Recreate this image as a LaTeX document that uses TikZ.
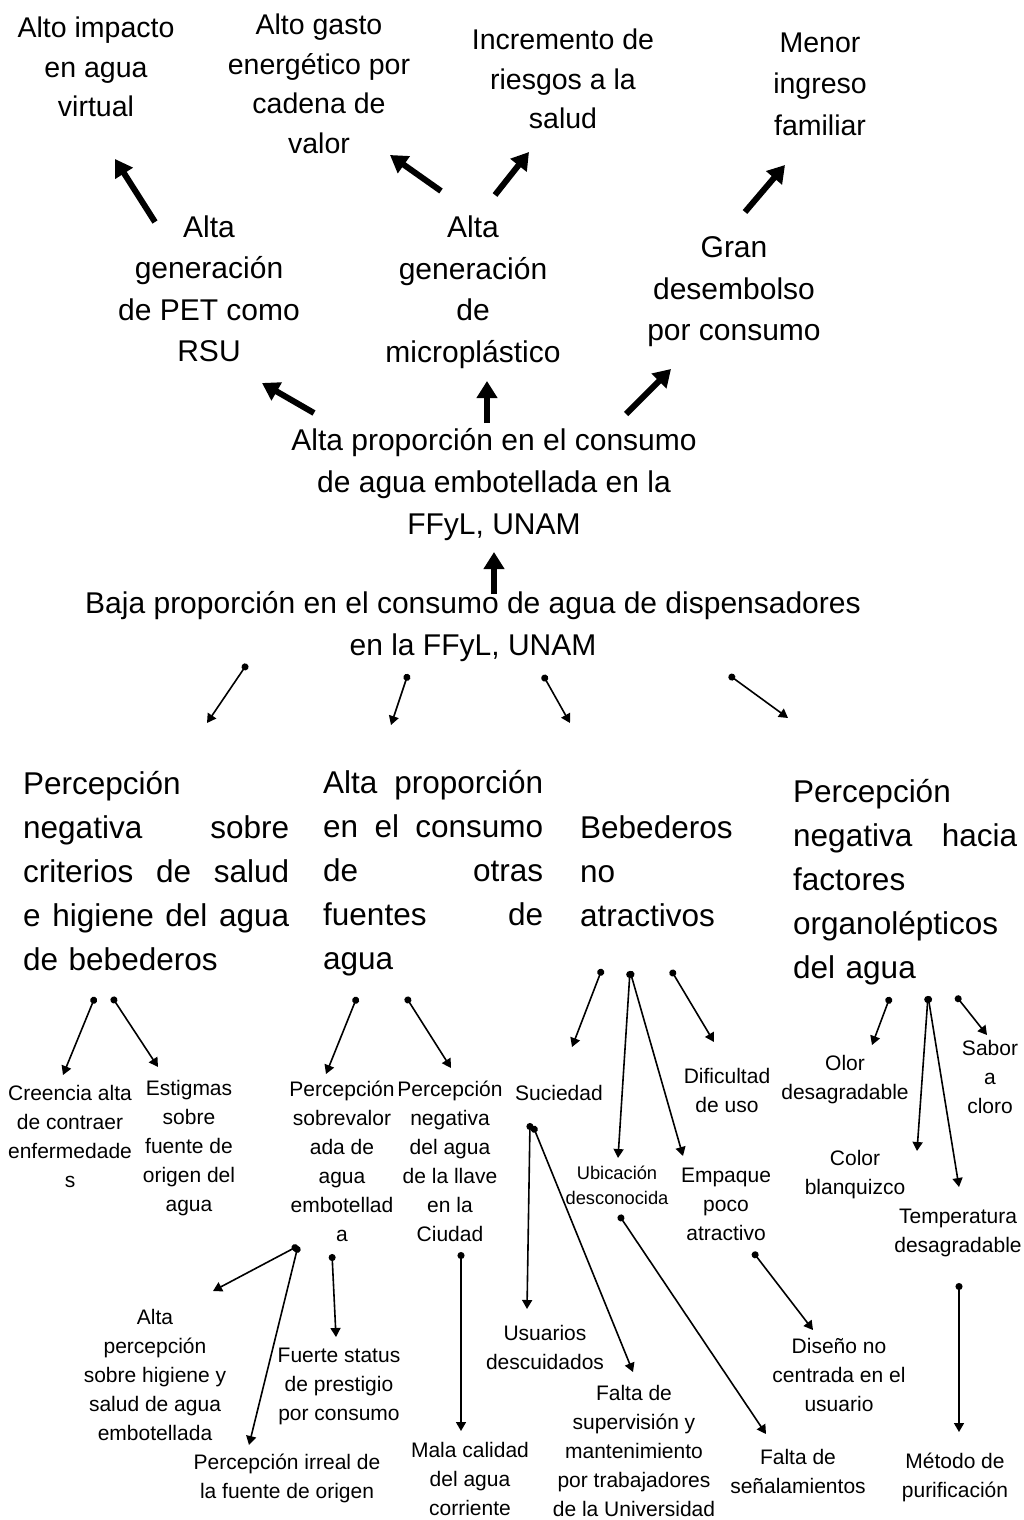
\documentclass[tikz,border=0pt]{standalone}
\usepackage{fontspec}
\setmainfont{Liberation Sans}
\usetikzlibrary{arrows.meta}

\begin{document}
\begin{tikzpicture}
  [x=1pt,y=-1pt,every node/.style={inner sep=0pt,align=center},
   effect/.style={font=\fontsize{28.5}{39.5}\selectfont},
   second/.style={font=\fontsize{30}{41.5}\selectfont},
   core/.style={font=\fontsize{30}{42}\selectfont},
   cause/.style={font=\fontsize{31.5}{44}\selectfont,anchor=west,align=left},
   leaf/.style={font=\fontsize{21}{29}\selectfont},
   smallleaf/.style={font=\fontsize{18.3}{25}\selectfont},
   bigarrow/.style={line width=6pt,-{Triangle[length=17pt,width=20pt]}},
   smallarrow/.style={line width=1.6pt,{Circle[length=7pt]}-{Triangle[length=9pt,width=10pt]}}]
  \useasboundingbox (0,0) rectangle (1024,1520);

  % efectos
  \node[effect] (impacto) at (96,67) {Alto impacto\\en agua\\virtual};
  \node[effect] (gasto) at (319,84) {Alto gasto\\energético por\\cadena de\\valor};
  \node[effect] (riesgos) at (563,79) {Incremento de\\riesgos a la\\salud};
  \node[effect,font=\fontsize{28.5}{41.5}\selectfont] (ingreso) at (820,84) {Menor\\ingreso\\familiar};
  \node[second] (pet) at (209,289) {Alta\\generación\\de PET como\\RSU};
  \node[second] (micro) at (473,292) {Alta\\generación\\de\\microplástico};
  \node[second] (gran) at (734,292) {Gran\\desembolso\\por consumo};

  % problema
  \node[core] (alta) at (494,485) {Alta proporción en el consumo\\de agua embotellada en la\\FFyL, UNAM};
  \node[core] (baja) at (473,627) {Baja proporción en el consumo de agua de dispensadores\\en la FFyL, UNAM};

  % causas
  \node[cause,text width=266pt] (salud) at (23,871) {Percepción\\negativa \hfill sobre\\criterios \hfill de \hfill salud\\e \hfill higiene \hfill del \hfill agua\\de bebederos};
  \node[cause,text width=220pt] (otras) at (323,873) {Alta \hfill proporción\\en \hfill el \hfill consumo\\de \hfill otras\\fuentes \hfill de\\agua};
  \node[cause] (bebe) at (580,871) {Bebederos\\no\\atractivos};
  \node[cause,text width=224pt] (organo) at (793,882) {Percepción\\negativa \hfill hacia\\factores\\organolépticos\\del agua};

  \node[leaf] (creencia) at (70,1136) {Creencia alta\\de contraer\\enfermedade\\s};
  \node[leaf] (estigmas) at (189,1148) {Estigmas\\sobre\\fuente de\\origen del\\agua};
  \node[leaf] (sobreval) at (342,1161) {Percepción\\sobrevalor\\ada de\\agua\\embotellad\\a};
  \node[leaf] (llave) at (450,1161) {Percepción\\negativa\\del agua\\de la llave\\en la\\Ciudad};
  \node[leaf] (suciedad) at (559,1093) {Suciedad};
  \node[smallleaf] (ubicacion) at (617,1185) {Ubicación\\desconocida};
  \node[leaf] (empaque) at (726,1204) {Empaque\\poco\\atractivo};
  \node[leaf] (dificultad) at (727,1090) {Dificultad\\de uso};
  \node[leaf] (olor) at (845,1080) {Olor\\desagradable};
  \node[leaf] (color) at (855,1175) {Color\\blanquizco};
  \node[leaf] (temp) at (958,1233) {Temperatura\\desagradable};
  \node[leaf] (sabor) at (990,1077) {Sabor\\a\\cloro};

  \node[leaf] (altaper) at (155,1375) {Alta\\percepción\\sobre higiene y\\salud de agua\\embotellada};
  \node[leaf] (irreal) at (287,1478) {Percepción irreal de\\la fuente de origen};
  \node[leaf] (status) at (339,1386) {Fuerte status\\de prestigio\\por consumo};
  \node[leaf] (mala) at (470,1479) {Mala calidad\\del agua\\corriente};
  \node[leaf] (usuarios) at (545,1347) {Usuarios\\descuidados};
  \node[leaf] (supervision) at (634,1451) {Falta de\\supervisión y\\mantenimiento\\por trabajadores\\de la Universidad};
  \node[leaf] (senal) at (798,1471) {Falta de\\señalamientos};
  \node[leaf] (diseno) at (839,1375) {Diseño no\\centrada en el\\usuario};
  \node[leaf] (metodo) at (955,1477) {Método de\\purificación};

  % extremos de flechas
  \coordinate (pet-s) at (155,222);   \coordinate (impacto-t) at (115,159);
  \coordinate (micro-s1) at (441,191); \coordinate (gasto-t) at (390,155);
  \coordinate (micro-s2) at (495,195); \coordinate (riesgos-t) at (529,152);
  \coordinate (gran-s) at (745,212);  \coordinate (ingreso-t) at (785,165);
  \coordinate (alta-s1) at (314,413); \coordinate (pet-t) at (262,383);
  \coordinate (alta-s2) at (487,423); \coordinate (micro-t) at (487,381);
  \coordinate (alta-s3) at (626,414); \coordinate (gran-t) at (671,369);
  \coordinate (baja-s) at (494,594);  \coordinate (alta-t) at (494,552);

  \coordinate (baja1) at (247,664); \coordinate (salud-t) at (207,723);
  \coordinate (baja2) at (408,674); \coordinate (otras-t) at (391,725);
  \coordinate (baja3) at (543,675); \coordinate (bebe-t) at (570,723);
  \coordinate (baja4) at (729,675); \coordinate (organo-t) at (788,718);

  \coordinate (salud1) at (95,997);   \coordinate (creencia-t) at (63,1075);
  \coordinate (salud2) at (112,997);  \coordinate (estigmas-t) at (158,1067);
  \coordinate (otras1) at (357,997);  \coordinate (sobreval-t) at (326,1074);
  \coordinate (otras2) at (406,997);  \coordinate (llave-t) at (451,1068);
  \coordinate (bebe1) at (602,969);   \coordinate (suciedad-t) at (572,1047);
  \coordinate (bebe2) at (630,971);   \coordinate (ubicacion-t) at (618,1158);
                                      \coordinate (empaque-t) at (683,1156);
  \coordinate (bebe3) at (671,970);   \coordinate (dificultad-t) at (714,1042);
  \coordinate (organo1) at (890,997); \coordinate (olor-t) at (872,1045);
  \coordinate (organo2) at (928,996); \coordinate (color-t) at (917,1151);
                                      \coordinate (temp-t) at (959,1187);
  \coordinate (organo3) at (956,996); \coordinate (sabor-t) at (987,1035);

  \coordinate (sobreval1) at (298,1246); \coordinate (altaper-t) at (213,1291);
                                         \coordinate (irreal-t) at (249,1445);
  \coordinate (sobreval2) at (332,1254); \coordinate (status-t) at (336,1337);
  \coordinate (llave1) at (461,1252);    \coordinate (mala-t) at (461,1431);
  \coordinate (suciedad1) at (530,1123); \coordinate (usuarios-t) at (527,1309);
  \coordinate (suciedad2) at (533,1126); \coordinate (supervision-t) at (633,1372);
  \coordinate (ubicacion1) at (619,1215); \coordinate (senal-t) at (766,1434);
  \coordinate (empaque1) at (753,1252);  \coordinate (diseno-t) at (813,1330);
  \coordinate (temp1) at (959,1283);     \coordinate (metodo-t) at (959,1432);

  \foreach \from/\to in {pet-s/impacto-t, micro-s1/gasto-t, micro-s2/riesgos-t,
      gran-s/ingreso-t, alta-s1/pet-t, alta-s2/micro-t, alta-s3/gran-t, baja-s/alta-t}
  \draw[bigarrow] (\from) -- (\to);

  \foreach \from/\to in {baja1/salud-t, baja2/otras-t, baja3/bebe-t, baja4/organo-t,
      salud1/creencia-t, salud2/estigmas-t, otras1/sobreval-t, otras2/llave-t,
      bebe1/suciedad-t, bebe2/ubicacion-t, bebe2/empaque-t, bebe3/dificultad-t,
      organo1/olor-t, organo2/color-t, organo2/temp-t, organo3/sabor-t,
      sobreval1/altaper-t, sobreval1/irreal-t, sobreval2/status-t, llave1/mala-t,
      suciedad1/usuarios-t, suciedad2/supervision-t, ubicacion1/senal-t,
      empaque1/diseno-t, temp1/metodo-t}
  \draw[smallarrow] (\from) -- (\to);
\end{tikzpicture}
\end{document}
